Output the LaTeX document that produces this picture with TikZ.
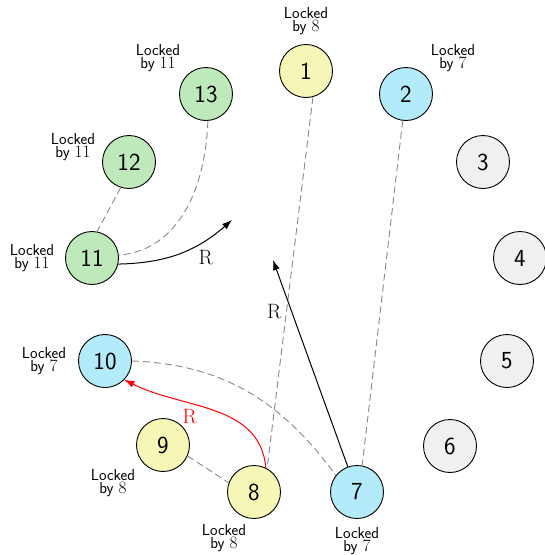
\documentclass[tikz,border=0pt]{standalone}
\usetikzlibrary{arrows.meta}
\definecolor{gfill}{HTML}{BDE9BB}
\definecolor{cfill}{HTML}{B3EBFB}
\definecolor{yfill}{HTML}{F6F6B6}
\definecolor{wfill}{HTML}{F0F0F0}
\definecolor{dgray}{HTML}{888888}
\tikzset{
  nd/.style={circle, draw=black, line width=0.9pt, minimum size=53pt, inner sep=0pt,
    font=\fontsize{24.5}{24.5}\selectfont\sffamily},
  lock/.style={align=center, inner sep=0pt, font=\fontsize{16}{12.5}\selectfont\sffamily},
  dsh/.style={dgray, line width=0.9pt, dash pattern=on 7pt off 4pt},
  arr/.style={line width=1pt, -{Latex[length=10pt,width=7pt]}},
  rlab/.style={font=\fontsize{19.5}{19.5}\selectfont, inner sep=0pt}
}
\begin{document}
\begin{tikzpicture}[x=1pt,y=-1pt]
\useasboundingbox (0,0) rectangle (545,555);
% nodes
\node[nd, fill=yfill] (n1) at (306,71) {1};
\node[nd, fill=cfill] (n2) at (406,94) {2};
\node[nd, fill=wfill] (n3) at (483,162) {3};
\node[nd, fill=wfill] (n4) at (520,258) {4};
\node[nd, fill=wfill] (n5) at (507,361) {5};
\node[nd, fill=wfill] (n6) at (450,446) {6};
\node[nd, fill=cfill] (n7) at (357,492) {7};
\node[nd, fill=yfill] (n8) at (254,492) {8};
\node[nd, fill=yfill] (n9) at (163,445) {9};
\node[nd, fill=cfill] (n10) at (105,361) {10};
\node[nd, fill=gfill] (n11) at (92,258) {11};
\node[nd, fill=gfill] (n12) at (129,162) {12};
\node[nd, fill=gfill] (n13) at (206,94) {13};
% labels
\node[lock] (l1) at (306,21) {Locked\\by $8$};
\node[lock] (l2) at (453,58) {Locked\\by $7$};
\node[lock] (l13) at (158,58) {Locked\\by $11$};
\node[lock] (l12) at (73,147) {Locked\\by $11$};
\node[lock] (l11) at (32,258) {Locked\\by $11$};
\node[lock] (l10) at (44,361) {Locked\\by $7$};
\node[lock] (l9) at (113,483) {Locked\\by $8$};
\node[lock] (l8) at (224,538) {Locked\\by $8$};
\node[lock] (l7) at (357,541) {Locked\\by $7$};
% dashed links
\draw[dsh] (n1.-75) -- (n8.61);
\draw[dsh] (n2.-97) -- (n7.79);
\draw[dsh] (n12.-108) -- (n11.79);
\draw[dsh] (n9.-24) -- (n8.160);
\draw[dsh] (n13.-86) to[out=-92, in=5] (n11.6);
\draw[dsh] (n10.0) to[out=-2, in=126] (n7.142);
% arrows
\coordinate (e11) at (232,220);
\coordinate (e7) at (273,260);
\draw[arr] (n11.-13) to[bend right=20] node[rlab, pos=0.75, below=10pt] {$\mathrm{R}$} (e11);
\draw[arr] (n7.110) -- node[rlab, pos=0.75, left=10pt] {$\mathrm{R}$} (e7);
\draw[arr, red] (n8.64) to[out=95, in=-27] node[rlab, pos=0.55, below left=1pt, xshift=-8pt] {$\mathrm{R}$} (n10.-44);
\end{tikzpicture}
\end{document}
